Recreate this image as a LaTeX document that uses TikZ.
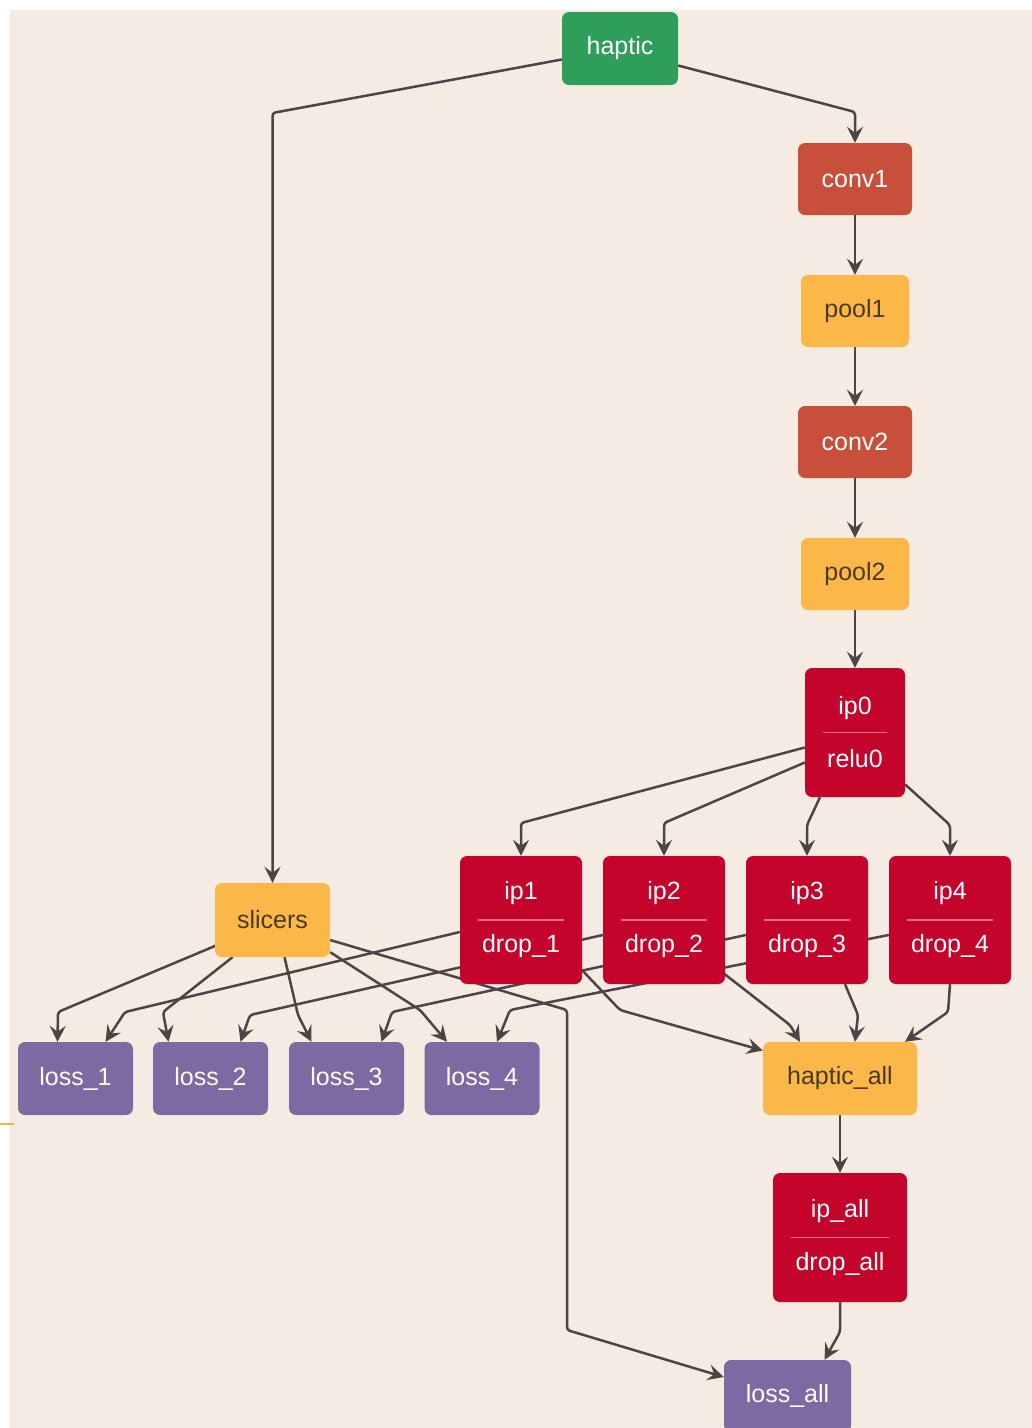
\documentclass[tikz,border=0pt]{standalone}
\usepackage{fontspec}
\setmainfont{Liberation Sans}
\usetikzlibrary{arrows.meta}
\pgfdeclarelayer{bg}
\pgfsetlayers{bg,main}
\definecolor{bgc}{HTML}{F5EBE2}
\definecolor{greenc}{HTML}{2E9E5B}
\definecolor{convc}{HTML}{C8503A}
\definecolor{amberc}{HTML}{FBB848}
\definecolor{crimc}{HTML}{C5042B}
\definecolor{purpc}{HTML}{7E69A3}
\definecolor{edgec}{HTML}{4D4545}
\definecolor{divc}{HTML}{E8707E}
\definecolor{darktext}{HTML}{4A3A22}
\begin{document}
\begin{tikzpicture}[x=1pt,y=-1pt,
  box/.style={rounded corners=7pt, inner sep=0pt, align=center,
    font=\fontsize{25}{30}\selectfont, text=white},
  greenbox/.style={box, fill=greenc, minimum width=116pt, minimum height=73pt},
  convbox/.style={box, fill=convc, minimum width=114pt, minimum height=72pt},
  poolbox/.style={box, fill=amberc, text=darktext, minimum width=108pt, minimum height=72pt},
  stackbox/.style={box, fill=crimc, minimum height=128pt},
  lossbox/.style={box, fill=purpc, minimum width=115pt, minimum height=73pt},
  divline/.style={draw=divc, line width=1.3pt},
  edge/.style={draw=edgec, line width=2.5pt, rounded corners=3pt,
    -{Stealth[length=16pt,width=16pt,inset=6pt]}}
]
\useasboundingbox (0,0) rectangle (1032,1428);

% nodes
\node[greenbox] (haptic) at (620,48.5) {haptic};
\node[convbox] (conv1) at (855,179) {conv1};
\node[poolbox] (pool1) at (855,311) {pool1};
\node[convbox] (conv2) at (855,442) {conv2};
\node[poolbox] (pool2) at (855,574) {pool2};
\node[stackbox, minimum width=100pt, minimum height=129pt] (ip0) at (855,732.5) {ip0\\[23pt]relu0};
\node[stackbox, minimum width=122pt] (ip1) at (521,920) {ip1\\[23pt]drop\_1};
\node[stackbox, minimum width=122pt] (ip2) at (664,920) {ip2\\[23pt]drop\_2};
\node[stackbox, minimum width=122pt] (ip3) at (807,920) {ip3\\[23pt]drop\_3};
\node[stackbox, minimum width=122pt] (ip4) at (950,920) {ip4\\[23pt]drop\_4};
\node[poolbox, minimum width=115pt, minimum height=74pt] (slicers) at (272.5,920) {slicers};
\node[lossbox] (loss1) at (75.5,1078.5) {loss\_1};
\node[lossbox] (loss2) at (210.5,1078.5) {loss\_2};
\node[lossbox] (loss3) at (346.5,1078.5) {loss\_3};
\node[lossbox] (loss4) at (482,1078.5) {loss\_4};
\node[poolbox, minimum width=154pt, minimum height=73pt] (hall) at (840,1078.5) {haptic\_all};
\node[stackbox, minimum width=134pt, minimum height=129pt] (ipall) at (840,1237.5) {ip\_all\\[23pt]drop\_all};
\node[lossbox, minimum width=127pt, minimum height=72pt] (lossall) at (787.5,1396) {loss\_all};

% dividers
\foreach \n in {ip0,ip1,ip2,ip3,ip4,ipall}
  \draw[divline] ([xshift=18pt]\n.west) -- ([xshift=-18pt]\n.east);

\begin{pgfonlayer}{bg}
\fill[white] (0,0) rectangle (1032,1428);
\fill[bgc] (10,10) rectangle (1032,1428);
\draw[draw=amberc!80!orange, line width=1.2pt] (0,1124) -- (14,1124);

% connectors
\draw[edge] ([yshift=-17pt]haptic.east) -- (855,112) -- (conv1.north);
\draw[edge] ([yshift=-11pt]haptic.west) -- (272.5,113) -- (slicers.north);
\draw[edge] (conv1) -- (pool1);
\draw[edge] (pool1) -- (conv2);
\draw[edge] (conv2) -- (pool2);
\draw[edge] (pool2) -- (ip0);
\draw[edge] ([yshift=-15pt]ip0.west) -- (521,823) -- (ip1.north);
\draw[edge] ([yshift=-30pt]ip0.west) -- (664,823) -- (ip2.north);
\draw[edge] ([xshift=-35pt]ip0.south) -- (807,825) -- (ip3.north);
\draw[edge] ([yshift=-52pt]ip0.east) -- (950,825) -- (ip4.north);

\draw[edge] ([shift={(2pt,12pt)}]slicers.south west) -- (58,1012) -- ([xshift=-18pt]loss1.north);
\draw[edge] ([xshift=-40pt]slicers.south) -- (163,1012) -- ([xshift=-42pt]loss2.north);
\draw[edge] ([xshift=12pt]slicers.south) -- (298,1015) -- ([xshift=-35pt]loss3.north);
\draw[edge] ([yshift=5pt]slicers.south east) -- (420,1010) -- ([xshift=-35pt]loss4.north);
\draw[edge] ([yshift=-20pt]slicers.east) -- (567,1010) -- (567,1330) -- ([yshift=19pt]lossall.west);

\draw[edge] ([yshift=-12pt]ip1.west) -- (125,1012) -- ([xshift=30pt]loss1.north);
\draw[edge] ([yshift=-15pt]ip2.west) -- (250,1015) -- ([xshift=30pt]loss2.north);
\draw[edge] ([yshift=-15pt]ip3.west) -- (392,1012) -- ([xshift=35pt]loss3.north);
\draw[edge] ([yshift=-15pt]ip4.west) -- (510,1010) -- ([xshift=15pt]loss4.north);

\draw[edge] ([shift={(-2pt,16pt)}]ip1.south east) -- (620,1010) -- ([yshift=28pt]hall.west);
\draw[edge] ([shift={(-3pt,12pt)}]ip2.south east) -- (790,1025) -- ([xshift=-40pt]hall.north);
\draw[edge] ([xshift=38pt]ip3.south) -- (858,1015) -- ([xshift=15pt]hall.north);
\draw[edge] (ip4.south) -- (948,1012) -- ([xshift=65pt]hall.north);
\draw[edge] (hall) -- (ipall);
\draw[edge] (ipall.south) -- (840,1332) -- ([xshift=37pt]lossall.north);
\end{pgfonlayer}
\end{tikzpicture}
\end{document}
